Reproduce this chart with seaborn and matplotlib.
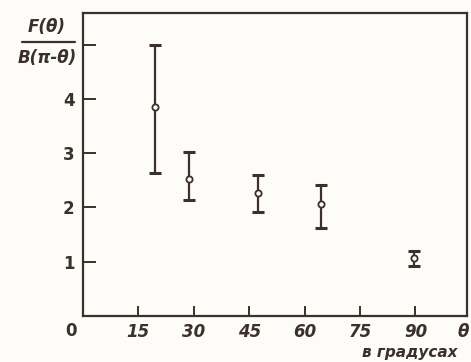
import matplotlib
matplotlib.use("Agg")
import matplotlib.pyplot as plt
import numpy as np
import pandas as pd
import seaborn as sns

# Measured ratio F(θ)/B(π-θ) versus angle θ (degrees)
theta = [19.5, 28.7, 47.3, 64.5, 89.7]
ratio = [3.85, 2.52, 2.27, 2.06, 1.06]
ratio_low = [2.63, 2.13, 1.92, 1.63, 0.92]
ratio_high = [5.0, 3.02, 2.60, 2.42, 1.20]

x_ticks = [15, 30, 45, 60, 75, 90]
x_tick_labels = ["15", "30", "45", "60", "75", "90"]
y_ticks = [1, 2, 3, 4, 5]
y_tick_labels = ["1", "2", "3", "4", ""]

ink = "#3b302a"
paper = "#fdfcf8"

df = pd.DataFrame({"theta": theta, "ratio": ratio,
                   "low": ratio_low, "high": ratio_high})

sns.set_theme(style="ticks")
plt.rcParams["font.family"] = ["DejaVu Sans"]

fig = plt.figure(figsize=(4.71, 3.62), dpi=100, facecolor=paper)
ax = fig.add_axes([0.176, 0.127, 0.816, 0.837])
ax.set_facecolor(paper)

yerr = np.array([df["ratio"] - df["low"], df["high"] - df["ratio"]])
ax.errorbar(df["theta"], df["ratio"], yerr=yerr, fmt="none",
            ecolor=ink, elinewidth=1.6, capsize=4.5, capthick=2.2, zorder=2)
sns.scatterplot(data=df, x="theta", y="ratio", ax=ax, s=20, marker="o",
                facecolor=paper, edgecolor=ink, linewidth=1.3, zorder=3,
                legend=False)

ax.set_xlim(0, 104)
ax.set_ylim(0, 5.58)
ax.set_xticks(x_ticks)
ax.set_xticklabels(x_tick_labels, fontsize=12, fontstyle="italic",
                   fontweight="bold", color=ink)
ax.set_yticks(y_ticks)
ax.set_yticklabels(y_tick_labels, fontsize=12, fontweight="bold", color=ink)
ax.tick_params(axis="x", direction="in", length=7, width=1.4, color=ink, pad=5)
ax.tick_params(axis="y", direction="in", length=9, width=1.4, color=ink, pad=6)
ax.set_xlabel("")
ax.set_ylabel("")
for sp in ax.spines.values():
    sp.set_visible(True)
    sp.set_color(ink)
    sp.set_linewidth(1.6)

# origin label, axis variable and unit
fig.text(71 / 471, 1 - 331 / 362, "0", fontsize=12, fontweight="bold",
         color=ink, ha="center", va="center")
fig.text(463 / 471, 1 - 332 / 362, "θ", fontsize=12, fontstyle="italic",
         fontweight="bold", color=ink, ha="center", va="center")
fig.text(410 / 471, 1 - 352 / 362, "в градусах", fontsize=11,
         fontstyle="italic", fontweight="bold", color=ink,
         ha="center", va="center")

# fractional y-axis title
fig.text(47 / 471, 1 - 27 / 362, "F(θ)", fontsize=12, fontstyle="italic",
         fontweight="bold", color=ink, ha="center", va="center")
fig.add_artist(plt.Line2D([22 / 471, 75 / 471], [1 - 42 / 362, 1 - 42 / 362],
                          color=ink, linewidth=1.6))
fig.text(47 / 471, 1 - 58 / 362, "B(π-θ)", fontsize=12, fontstyle="italic",
         fontweight="bold", color=ink, ha="center", va="center")

fig.savefig("out.png", dpi=100, facecolor=paper)
